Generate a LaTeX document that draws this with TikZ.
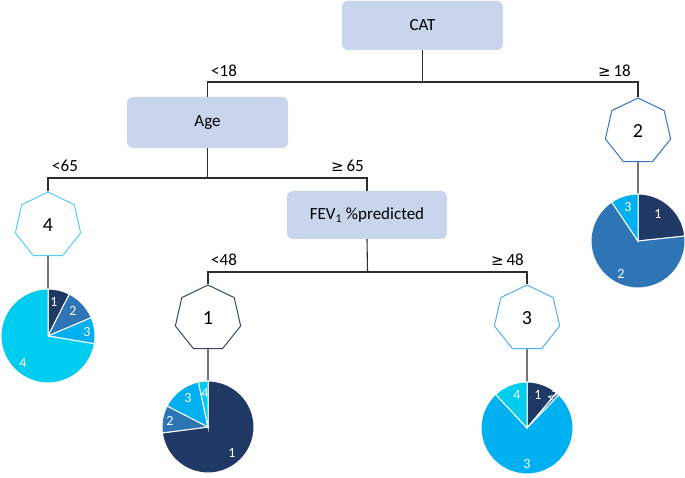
\documentclass[tikz,border=0pt]{standalone}
\usepackage{fontspec}
\setmainfont{Carlito}
\newfontfamily\symfont{DejaVu Sans}
\usetikzlibrary{shapes.geometric}
\definecolor{boxfill}{RGB}{200,213,237}
\definecolor{navy}{RGB}{32,56,100}
\definecolor{midblue}{RGB}{46,117,182}
\definecolor{brightblue}{RGB}{0,176,240}
\definecolor{cyanblue}{RGB}{0,204,240}
\definecolor{hepcyan}{RGB}{80,205,245}
\definecolor{hepnavy}{RGB}{55,72,110}
\definecolor{heplight}{RGB}{80,175,240}
\definecolor{hepmid}{RGB}{55,115,200}
\definecolor{linegray}{RGB}{45,45,45}
\newcommand\pieslice[5]{\fill[#5,draw=white,line width=1pt] (#1) -- ++({90-#3}:#2) arc[start angle={90-#3}, end angle={90-#4}, radius=#2] -- cycle;}
\newcommand\gesym{{\symfont\fontsize{15}{18}\selectfont ≥}}
\begin{document}
\begin{tikzpicture}[x=1pt,y=1pt,
  splitbox/.style={fill=boxfill, rounded corners=6pt, minimum width=161pt, minimum height=49pt, inner sep=0pt, font=\fontsize{17}{20}\selectfont},
  hept/.style={regular polygon, regular polygon sides=7, minimum size=67pt, inner sep=0pt, draw, line width=1pt, fill=white, font=\fontsize{20}{24}\selectfont},
  cond/.style={font=\fontsize{17}{20}\selectfont, inner sep=0pt},
  conn/.style={draw=linegray, line width=1.1pt},
  pielab/.style={text=white, font=\fontsize{14}{16}\selectfont, inner sep=0pt}]
\useasboundingbox (0,0) rectangle (685,477);

% decision boxes
\node[splitbox] (cat) at (422.5,451.5) {CAT};
\node[splitbox, minimum height=51pt] (age) at (207.5,354.5) {Age};
\node[splitbox, minimum width=160pt, minimum height=48pt] (fev) at (367,262) {FEV\textsubscript{1} \%predicted};

% junctions
\coordinate (j1) at (422.5,395);
\coordinate (j2) at (207.5,299);
\coordinate (j3) at (367.5,205);

% heptagons
\node[hept, draw=hepmid] (h2) at (638,345.5) {2};
\node[hept, draw=hepcyan] (h4) at (48,251.5) {4};
\node[hept, draw=hepnavy] (h1) at (208,158.5) {1};
\node[hept, draw=heplight] (h3) at (527,158.5) {3};

% pie tops
\coordinate (p2) at (638,283);
\coordinate (p4) at (48,188);
\coordinate (p1) at (208,96);
\coordinate (p3) at (527,95);

% tree connectors
\draw[conn] (cat.south) -- (j1);
\draw[conn] (age.north) |- (j1);
\draw[conn] (h2.north) |- (j1);
\draw[conn] (age.south) -- (j2);
\draw[conn] (h4.north) |- (j2);
\draw[conn] (fev.north) |- (j2);
\draw[conn] (fev.south) -- (j3);
\draw[conn] (h1.north) |- (j3);
\draw[conn] (h3.north) |- (j3);
\draw[conn] (h2.south) -- (p2);
\draw[conn] (h4.south) -- (p4);
\draw[conn] (h1.south) -- (p1);
\draw[conn] (h3.south) -- (p3);

% condition labels
\node[cond, anchor=south west] (l18) at (211,400) {<18};
\node[cond, anchor=south east] (g18) at (631,400) {\gesym\,18};
\node[cond, anchor=south west] (l65) at (52,305) {<65};
\node[cond, anchor=south east] (g65) at (364,305) {\gesym\,65};
\node[cond, anchor=south west] (l48) at (211,211) {<48};
\node[cond, anchor=south east] (g48) at (524,211) {\gesym\,48};

% pie 2 (right)
\coordinate (c2) at (638,236);
\pieslice{c2}{47}{0}{84}{navy}
\pieslice{c2}{47}{84}{326}{midblue}
\pieslice{c2}{47}{326}{360}{brightblue}
\node[pielab] (q21) at (658,263) {1};
\node[pielab] (q22) at (621,203) {2};
\node[pielab] (q23) at (628,270) {3};

% pie 4 (left)
\coordinate (c4) at (48,141);
\pieslice{c4}{47}{0}{27}{navy}
\pieslice{c4}{47}{27}{67}{midblue}
\pieslice{c4}{47}{67}{99.5}{brightblue}
\pieslice{c4}{47}{99.5}{360}{cyanblue}
\node[pielab] (q41) at (54,175) {1};
\node[pielab] (q42) at (73,166) {2};
\node[pielab] (q43) at (87,145) {3};
\node[pielab] (q44) at (23,114) {4};

% pie 1
\coordinate (c1) at (208,50);
\pieslice{c1}{46}{0}{262.6}{navy}
\pieslice{c1}{46}{262.6}{297.3}{midblue}
\pieslice{c1}{46}{297.3}{348}{brightblue}
\pieslice{c1}{46}{348}{360}{cyanblue}
\node[pielab] (q11) at (232,24) {1};
\node[pielab] (q12) at (170,56) {2};
\node[pielab] (q13) at (188,79) {3};
\node[pielab] (q14) at (205,84) {4};

% pie 3
\coordinate (c3) at (527,49);
\pieslice{c3}{46}{0}{40}{navy}
\pieslice{c3}{46}{40}{44}{midblue}
\pieslice{c3}{46}{44}{317}{brightblue}
\pieslice{c3}{46}{317}{360}{cyanblue}
\node[pielab] (q31) at (538,82) {1};
\node[pielab, rotate=-40] (q32) at (553,82) {2};
\node[pielab] (q33) at (527,13) {3};
\node[pielab] (q34) at (517,82) {4};
\end{tikzpicture}
\end{document}
